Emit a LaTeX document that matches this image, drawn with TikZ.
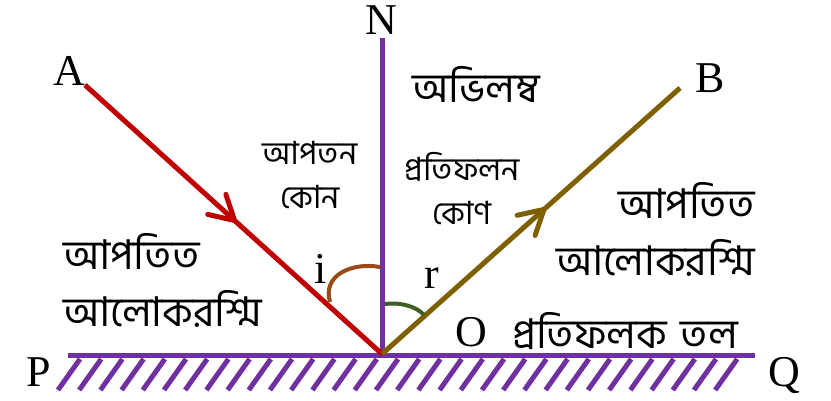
\documentclass[tikz,border=0pt]{standalone}
\usepackage{fontspec}
\setmainfont{Liberation Serif}
\newfontfamily\bnfont[Script=Bengali]{Hind Siliguri}
\usetikzlibrary{arrows.meta,decorations.markings}

\definecolor{mirrorcol}{RGB}{112,48,160}
\definecolor{incray}{RGB}{192,0,0}
\definecolor{refray}{RGB}{127,96,0}
\definecolor{arcicol}{RGB}{150,75,25}
\definecolor{arcrcol}{RGB}{60,95,40}

\begin{document}
\begin{tikzpicture}[x=1pt,y=-1pt,
  lbl/.style={inner sep=0pt,font=\fontsize{44}{44}\selectfont},
  bnbig/.style={inner sep=0pt,font=\bnfont\fontsize{41}{57}\selectfont},
  bnsmall/.style={inner sep=0pt,font=\bnfont\fontsize{32}{44}\selectfont},
  midarrow/.style={postaction={decorate},decoration={markings,
    mark=at position #1 with {\arrow{Straight Barb[length=24pt,width=27pt,round]}}}}]
\useasboundingbox (0,0) rectangle (831,400);
\coordinate (O) at (382,354);
\coordinate (N) at (382,38);
\coordinate (A) at (85,85);
\coordinate (B) at (680,88);
\coordinate (P) at (68,355);
\coordinate (Q) at (755,355);
% mirror
\foreach \k in {0,...,31}
  \draw[mirrorcol,line width=5pt] ({58+21.2*\k},390) -- ++(22,-31);
\draw[mirrorcol,line width=5pt] (P) -- (Q);
\draw[mirrorcol,line width=5pt] (O) -- (N);
% rays
\draw[incray,line width=5pt,midarrow=0.51] (A) -- (O);
\draw[refray,line width=5pt,midarrow=0.55] (O) -- (B);
% angles
\draw[arcicol,line width=4pt] (330,302) .. controls (322,275) and (352,262) .. (380,267);
\draw[arcrcol,line width=4pt] (385,304) .. controls (402,302) and (417,307) .. (424,315);
% letters
\node[lbl] (Nl) at (381,20) {N};
\node[lbl] (Al) at (69,71) {A};
\node[lbl] (Bl) at (710,78) {B};
\node[lbl] (Pl) at (39,372) {P};
\node[lbl] (Ql) at (784,375) {Q};
\node[lbl] (Ol) at (471,332) {O};
\node[lbl] (il) at (321,269) {i};
\node[lbl] (rl) at (432,278) {r};
% texts
\node[bnbig] (normaltxt) at (476,84) {অভিলম্ব};
\node[bnsmall,align=center] (incangle) at (310,175) {আপতন\\কোন};
\node[bnsmall,align=center] (refangle) at (462,189) {প্রতিফলন\\কোণ};
\node[bnbig,align=left,anchor=west] (incraytxt) at (63,280) {আপতিত\\আলোকরশ্মি};
\node[bnbig,align=right,anchor=east] (refraytxt) at (755,229) {আপতিত\\আলোকরশ্মি};
\node[bnbig] (surftxt) at (625,331) {প্রতিফলক\hspace{14pt}তল};
\end{tikzpicture}
\end{document}
